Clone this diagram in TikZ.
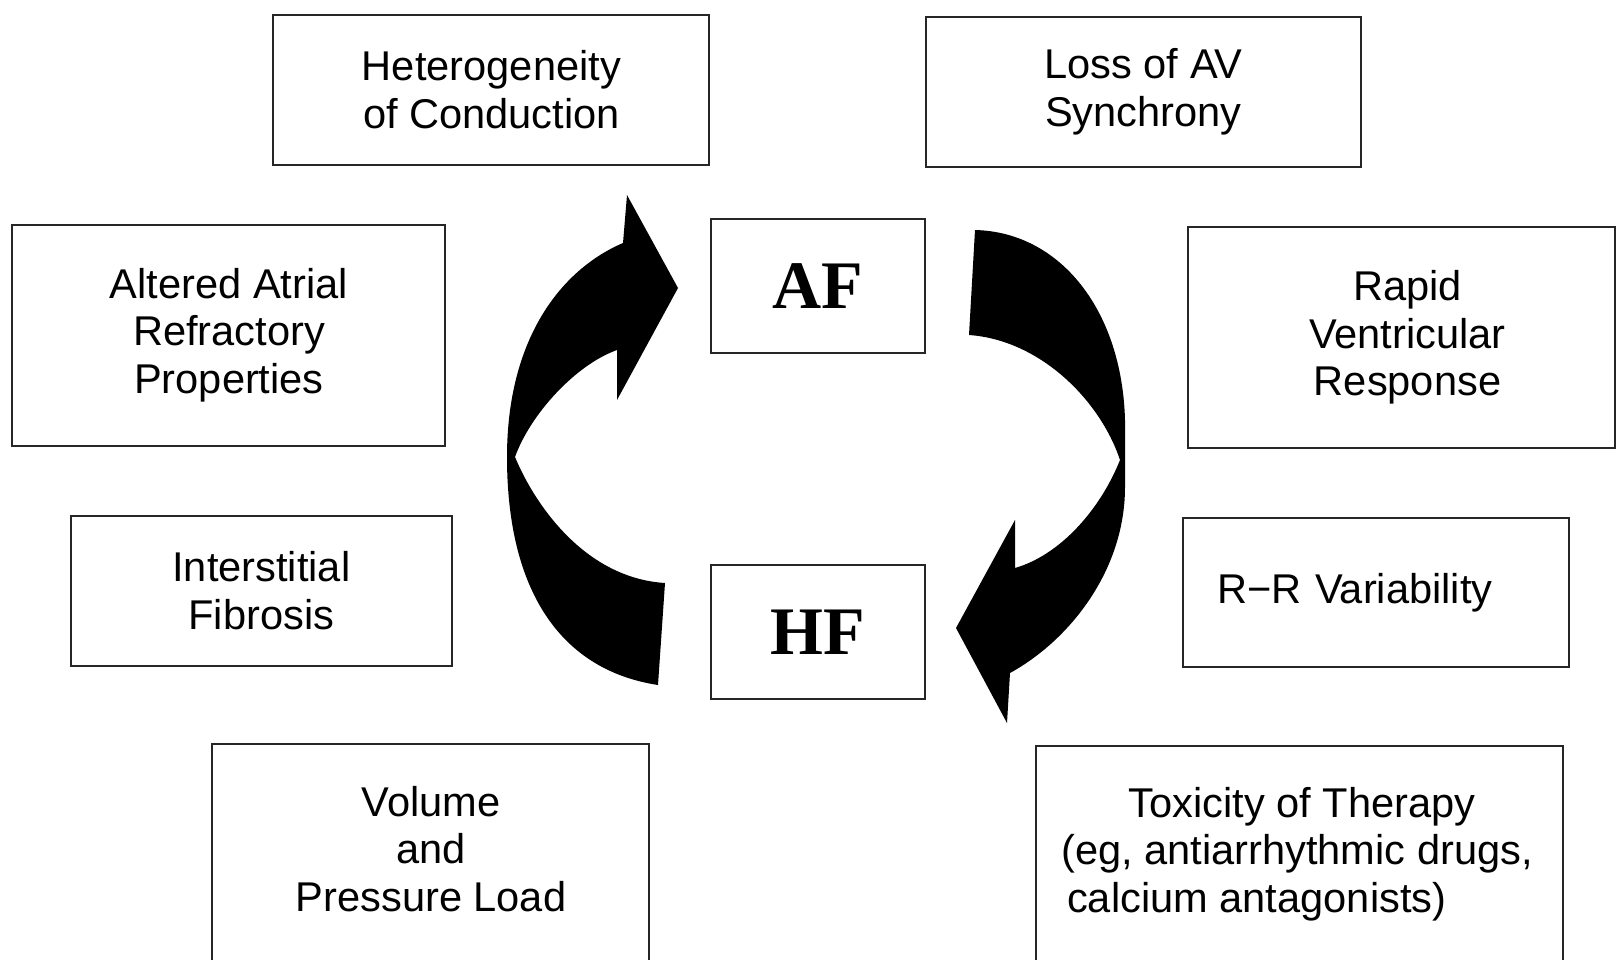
\documentclass[tikz,border=0pt]{standalone}
\usepackage{fontspec}
\setmainfont{Liberation Sans}
\newfontfamily\afserif{Liberation Serif}
\begin{document}
\begin{tikzpicture}[x=1pt,y=-1pt]
\tikzset{
  box/.style={draw=black!85, line width=2pt, inner sep=0pt, align=center,
    font=\fontsize{41.6}{47.5}\selectfont},
  lbl/.style={inner sep=0pt, align=center, font=\fontsize{41.6}{47.5}\selectfont},
  big/.style={draw=black!85, line width=2pt, inner sep=0pt,
    font=\afserif\bfseries\fontsize{68}{70}\selectfont},
  bigarrow/.style={fill=black, draw=none}
}
\useasboundingbox (0,0) rectangle (1617,959);
\clip (0,0) rectangle (1617,959);
\fill[white] (0,0) rectangle (1617,959);

\node[box, minimum width=436pt, minimum height=150pt] (het) at (491.4,89.7) {Heterogeneity\\of Conduction};
\node[box, minimum width=435pt, minimum height=150pt] (loss) at (1143.5,91.8) {Loss of AV\\Synchrony};
\node[big, minimum width=214.5pt, minimum height=134pt] (af) at (817.75,285.6) {AF};
\node[box, minimum width=433pt, minimum height=220.7pt] (alt) at (228.95,335.15) {Altered Atrial\\Refractory\\Properties};
\node[box, minimum width=427pt, minimum height=220.6pt] (rapid) at (1401.5,337.3) {\hspace*{12pt}Rapid\\\hspace*{12pt}Ventricular\\\hspace*{12pt}Response};
\node[box, minimum width=380.7pt, minimum height=150.4pt] (inter) at (261.35,590.8) {Interstitial\\Fibrosis};
\node[box, minimum width=385.5pt, minimum height=149.3pt, align=left, text width=317.5pt, inner xsep=34pt] (rr) at (1375.75,592.35) {R−R Variability};
\node[big, minimum width=214.5pt, minimum height=134pt] (hf) at (817.75,632) {HF};
\node[box, anchor=north, minimum width=436.3pt, minimum height=260pt] (vol) at (430.55,742.5) {};
\node[lbl] (voltext) at (431,848.7) {Volume\\and\\Pressure Load};
\node[box, anchor=north, minimum width=527pt, minimum height=260pt] (tox) at (1299.9,744.6) {};
\node[lbl] (toxtext) at (1297,855) {\begin{tabular}{@{}l@{}}\multicolumn{1}{c}{\hspace*{10pt}Toxicity of Therapy}\\(eg, antiarrhythmic drugs,\\\hspace*{6pt}calcium antagonists)\end{tabular}};

% left curved arrow (HF -> AF)
\fill[bigarrow] (665,583)
  .. controls (585,578) and (535,505) .. (515,457)
  .. controls (530,415) and (575,365) .. (617,350)
  -- (617,400) -- (678,288) -- (627,195) -- (623,243)
  .. controls (560,270) and (507,340) .. (507,457)
  .. controls (507,590) and (560,670) .. (658,685)
  -- cycle;

% right curved arrow (AF -> HF)
\fill[bigarrow] (975,230)
  .. controls (1060,232) and (1122,310) .. (1125,420)
  -- (1125,487)
  .. controls (1125,570) and (1070,640) .. (1010,673)
  -- (1007,723) -- (956,628) -- (1015,520) -- (1015,568)
  .. controls (1060,555) and (1100,510) .. (1120,460)
  .. controls (1100,400) and (1040,340) .. (969,335)
  -- cycle;
\end{tikzpicture}
\end{document}
